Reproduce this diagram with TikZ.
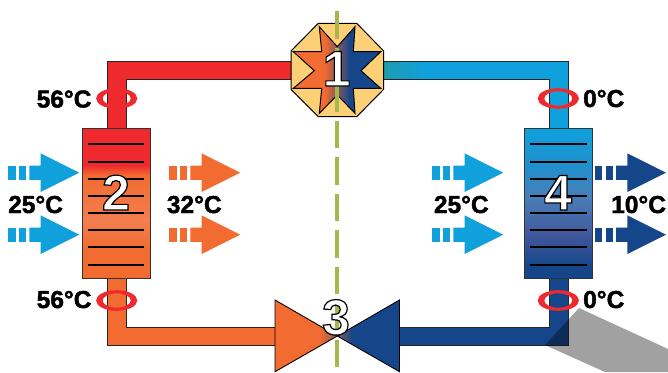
\documentclass[tikz,border=0pt]{standalone}
\usepackage{fontspec}
\setmainfont{Liberation Sans}
\usetikzlibrary{shapes.geometric}
\definecolor{hotred}{HTML}{EE2A2E}
\definecolor{warmorange}{HTML}{F26B30}
\definecolor{coldblue}{HTML}{10A0DC}
\definecolor{deepblue}{HTML}{15468A}
\definecolor{octfill}{HTML}{FDCF76}
\definecolor{axisgreen}{HTML}{A4B84B}
\definecolor{midtone}{HTML}{84585D}
\pgfdeclarehorizontalshading{starshade}{100bp}{color(0bp)=(warmorange); color(43bp)=(warmorange); color(50bp)=(midtone); color(57.4bp)=(deepblue); color(100bp)=(deepblue)}
\pgfdeclarehorizontalshading{valveleft}{100bp}{color(0bp)=(warmorange); color(61bp)=(warmorange); color(75bp)=(midtone); color(100bp)=(midtone)}
\pgfdeclarehorizontalshading{valveright}{100bp}{color(0bp)=(midtone); color(25bp)=(midtone); color(37bp)=(deepblue); color(100bp)=(deepblue)}
\definecolor{tealpipe}{HTML}{1F9BAE}
\pgfdeclarehorizontalshading{pipeshade}{100bp}{color(0bp)=(tealpipe); color(25bp)=(tealpipe); color(36bp)=(coldblue); color(100bp)=(coldblue)}
\definecolor{hxlight}{HTML}{F37E4F}
\pgfdeclareverticalshading{hxhot}{100bp}{color(0bp)=(warmorange); color(34.6bp)=(warmorange); color(44.5bp)=(hxlight); color(59.4bp)=(warmorange); color(62.7bp)=(hotred); color(100bp)=(hotred)}
\definecolor{hxa}{HTML}{1F90CD}
\definecolor{hxb}{HTML}{4A7EB8}
\definecolor{hxc}{HTML}{40569B}
\pgfdeclareverticalshading{hxcold}{100bp}{color(0bp)=(deepblue); color(29bp)=(deepblue); color(39bp)=(hxc); color(52bp)=(hxb); color(62.7bp)=(hxa); color(75bp)=(coldblue); color(100bp)=(coldblue)}
\tikzset{
  pipeline/.style={draw=black!85,line width=0.9pt,line join=miter},
  hxbox/.style={draw=black!80,line width=1pt},
  finline/.style={black,line width=2pt},
  temp/.style={inner sep=0pt,anchor=base west,font=\fontsize{24.5}{26}\bfseries},
  number/.style={inner sep=0pt,anchor=base,font=\fontsize{50}{52}\bfseries},
  ringshape/.style={fill=hotred,even odd rule}
}
\newcommand{\outlined}[1]{\special{pdf:code q 2 Tr 1.2 w 0 0 0 RG 1 1 1 rg}#1\special{pdf:code Q}}
\newcommand{\heavy}[1]{\special{pdf:code q 2 Tr 0.45 w 0 0 0 RG 0 0 0 rg}#1\special{pdf:code Q}}
\newcommand{\flowarrow}[3]{%
  \fill[#3] (#1,#2-7.2) rectangle ++(7.4,14.4);
  \fill[#3] (#1+10.7,#2-7.2) rectangle ++(7,14.4);
  \fill[#3] (#1+21,#2-7.2) -- (#1+32.4,#2-7.2) -- (#1+32.4,#2-19.3) -- (#1+71,#2) -- (#1+32.4,#2+19.3) -- (#1+32.4,#2+7.2) -- (#1+21,#2+7.2) -- cycle;
}
\newcommand{\tempring}[2]{%
  \path[ringshape] (#1,#2) ellipse [x radius=20.6,y radius=10.3] (#1,#2) ellipse [x radius=14,y radius=7.2];
}
\newcommand{\fins}[2]{%
  \foreach \yy in {144.3,161.5,178.7,196,213,230,247.3,264.5} \draw[finline] (#1,\yy) -- (#2,\yy);
}
\begin{document}
\begin{tikzpicture}[x=1pt,y=-1pt]
\useasboundingbox (0,0) rectangle (668,372);
% pipes
\path[pipeline,fill=hotred] (107,128) -- (107,61.7) -- (292,61.7) -- (292,79) -- (126,79) -- (126,128) -- cycle;
\path[pipeline,shading=pipeshade] (383,61.7) -- (568,61.7) -- (568,128) -- (549,128) -- (549,79) -- (383,79) -- cycle;
\path[pipeline,fill=warmorange] (107,278) -- (107,345) -- (276,345) -- (276,327.3) -- (126,327.3) -- (126,278) -- cycle;
\path[pipeline,fill=deepblue] (549,278) -- (549,327.3) -- (399,327.3) -- (399,345) -- (568,345) -- (568,278) -- cycle;
% heat exchangers
\path[hxbox,shading=hxhot] (82,128.3) rectangle (150,278.5);
\path[hxbox,shading=hxcold] (524,128.3) rectangle (592.3,278.5);
\fins{87.5}{144.3}
\fins{530}{586.7}
% compressor
\path[draw=black,line width=1pt,fill=octfill] (318.3,23.3) -- (356.7,23.3) -- (383.7,51) -- (383.7,89.3) -- (356.7,116.7) -- (318.3,116.7) -- (291,89.3) -- (291,51) -- cycle;
\path[draw=black,line width=1pt,shading=starshade,line join=miter] (319.3,26.7) -- (337.3,46.7) -- (355,26.7) -- (353.3,51.7) -- (380.7,51.7) -- (361,70.7) -- (380.7,88.3) -- (353.3,88.3) -- (355,113.3) -- (337.3,95) -- (319.3,113.3) -- (321.7,88.3) -- (293.3,88.3) -- (314.3,70.7) -- (293.3,51.7) -- (321.7,51.7) -- cycle;
% valve
\path[draw=black,line width=0.9pt,shading=valveleft] (275,300) -- (337.3,336) -- (275,371.7) -- cycle;
\path[draw=black,line width=0.9pt,shading=valveright] (399.5,300) -- (337.3,336) -- (399.5,371.7) -- cycle;
% centre line
\draw[axisgreen,line width=3.8pt,dash pattern=on 27.3pt off 9.2pt] (337.3,11.2) -- (337.3,372);
% shadow
\fill[black,opacity=0.37] (545,345) -- (568,320) -- (579,308) -- (668,349) -- (668,372) -- (605,372) -- cycle;
% rings
\tempring{116.7}{98.5}
\tempring{558.3}{98.5}
\tempring{116.7}{300.5}
\tempring{558.3}{300.5}
% flow arrows
\flowarrow{8.3}{172.7}{coldblue}
\flowarrow{8.3}{234.7}{coldblue}
\flowarrow{169.3}{172.7}{warmorange}
\flowarrow{169.3}{234.7}{warmorange}
\flowarrow{432.3}{172.7}{coldblue}
\flowarrow{432.3}{234.7}{coldblue}
\flowarrow{595}{172.7}{deepblue}
\flowarrow{595}{234.7}{deepblue}
% numbers
\node[number] (n1) at (336.6,86) {\color{white}\outlined{1}};
\node[number] (n2) at (116,210) {\color{white}\outlined{2}};
\node[number] (n3) at (336,334.5) {\color{white}\outlined{3}};
\node[number] (n4) at (558,210) {\color{white}\outlined{4}};
% temperatures
\node[temp] (t1) at (36.5,107.5) {\heavy{56°C}};
\node[temp] (t2) at (36.5,308) {\heavy{56°C}};
\node[temp] (t3) at (8,213) {\heavy{25°C}};
\node[temp] (t4) at (166.7,213) {\heavy{32°C}};
\node[temp] (t5) at (433.7,213) {\heavy{25°C}};
\node[temp] (t6) at (611,213) {\heavy{10°C}};
\node[temp] (t7) at (583,107) {\heavy{0°C}};
\node[temp] (t8) at (583,308) {\heavy{0°C}};
\end{tikzpicture}
\end{document}
